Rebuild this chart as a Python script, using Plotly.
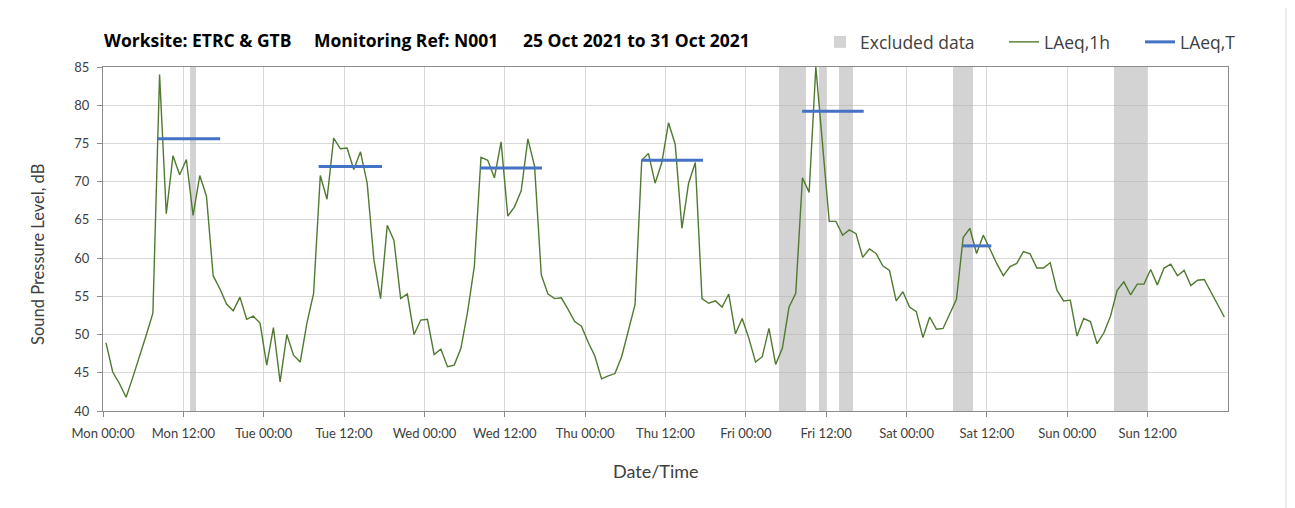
import pandas as pd
import plotly.graph_objects as go

# ---------------- data ----------------
start_time = "2021-10-25 00:27"
laeq_1h = [
    48.9, 45.1, 43.6, 41.8, 44.4, 47.0, 49.9, 52.8, 84.0, 65.8,
    73.4, 70.9, 72.9, 65.6, 70.8, 68.1, 57.7, 56.0, 54.0, 53.1,
    54.9, 52.0, 52.4, 51.5, 46.0, 50.9, 43.8, 50.0, 47.3, 46.4,
    51.5, 55.4, 70.8, 67.7, 75.7, 74.3, 74.4, 71.6, 73.9, 69.8,
    59.8, 54.7, 64.3, 62.3, 54.7, 55.3, 50.0, 51.9, 52.0, 47.4,
    48.1, 45.8, 46.0, 48.2, 53.0, 58.9, 73.2, 72.8, 70.5, 75.2,
    65.5, 66.7, 68.8, 75.6, 72.0, 57.8, 55.3, 54.7, 54.8, 53.3,
    51.7, 51.1, 49.0, 47.2, 44.2, 44.6, 44.9, 47.1, 50.4, 53.9,
    72.8, 73.7, 69.8, 72.5, 77.7, 74.9, 63.9, 69.8, 72.5, 54.7,
    54.1, 54.4, 53.6, 55.3, 50.1, 52.1, 49.5, 46.4, 47.1, 50.8,
    46.1, 48.2, 53.6, 55.4, 70.5, 68.6, 85.0, 75.0, 64.8, 64.8,
    63.0, 63.7, 63.2, 60.1, 61.2, 60.6, 59.0, 58.4, 54.4, 55.6,
    53.6, 53.0, 49.6, 52.3, 50.7, 50.8, 52.6, 54.6, 62.7, 63.9,
    60.6, 63.0, 61.2, 59.3, 57.7, 58.9, 59.3, 60.85, 60.55, 58.7,
    58.7, 59.4, 55.8, 54.4, 54.5, 49.8, 52.1, 51.7, 48.8, 50.2,
    52.4, 55.8, 56.9, 55.2, 56.6, 56.6, 58.5, 56.5, 58.7, 59.2,
    57.7, 58.4, 56.4, 57.1, 57.2, 55.5, 53.9, 52.3,
]
excluded_hours = [13, 101, 102, 103, 104, 107, 110, 111, 127, 128, 129,
                  151, 152, 153, 154, 155]
laeq_t_start = ["2021-10-25 08:10", "2021-10-26 08:12", "2021-10-27 08:18",
                "2021-10-28 08:24", "2021-10-29 08:24", "2021-10-30 08:24"]
laeq_t_end = ["2021-10-25 17:30", "2021-10-26 17:40", "2021-10-27 17:33",
              "2021-10-28 17:36", "2021-10-29 17:36", "2021-10-30 12:39"]
laeq_t = [75.6, 72.0, 71.8, 72.8, 79.2, 61.6]
tick_vals = pd.date_range("2021-10-25 00:00", periods=14, freq="12h")
tick_text = ["Mon 00:00", "Mon 12:00", "Tue 00:00", "Tue 12:00", "Wed 00:00",
             "Wed 12:00", "Thu 00:00", "Thu 12:00", "Fri 00:00", "Fri 12:00",
             "Sat 00:00", "Sat 12:00", "Sun 00:00", "Sun 12:00"]
y_ticks = [40, 45, 50, 55, 60, 65, 70, 75, 80, 85]
title_parts = ["Worksite: ETRC &amp; GTB", "Monitoring Ref: N001",
               "25 Oct 2021 to 31 Oct 2021"]

times = pd.date_range(start_time, periods=len(laeq_1h), freq="h")

FONT = "Lato"
TFONT = "Open Sans"
TXT = "#404040"

# page geometry (the html body has an 8px margin)
OFF = 8
W, H = 1295 - OFF, 508 - OFF
PL, PR, PT, PB = 103, 1228, 67, 411          # plot area on the page
L, R, T, B = PL - OFF, W - (PR - OFF), PT - OFF, H - (PB - OFF)
pw, ph = PR - PL, PB - PT


def px(x):
    return (x - PL) / pw


def py(y):
    return (PB - y) / ph


fig = go.Figure()

# excluded data bands
fig.add_trace(go.Bar(
    x=[times[i] for i in excluded_hours],
    y=[85] * len(excluded_hours),
    width=3600000,
    marker=dict(color="rgba(175,175,175,0.55)", line=dict(width=0)),
    name="Excluded data", hoverinfo="skip", legendwidth=139,
))

# hourly LAeq
fig.add_trace(go.Scatter(
    x=times, y=laeq_1h, mode="lines",
    line=dict(color="#4F7A30", width=1.4),
    name="LAeq,1h", legendwidth=91,
))

# LAeq,T segments
xs, ys = [], []
for s, e, v in zip(laeq_t_start, laeq_t_end, laeq_t):
    xs += [pd.Timestamp(s), pd.Timestamp(e), None]
    ys += [v, v, None]
fig.add_trace(go.Scatter(
    x=xs, y=ys, mode="lines",
    line=dict(color="#4472C4", width=3),
    name="LAeq,T", connectgaps=False,
))

fig.update_layout(
    width=W, height=H,
    margin=dict(l=L, r=R, t=T, b=B, autoexpand=False),
    paper_bgcolor="white", plot_bgcolor="white",
    font=dict(family=FONT, color=TXT),
    bargap=0,
    showlegend=True,
    legend=dict(
        orientation="h", x=px(820), y=py(42), xanchor="left", yanchor="middle",
        font=dict(family=TFONT, size=17.5, color=TXT),
        bgcolor="rgba(0,0,0,0)", itemwidth=30,
    ),
    xaxis=dict(
        type="date",
        range=[pd.Timestamp("2021-10-25 00:00"), pd.Timestamp("2021-11-01 00:00")],
        tickvals=list(tick_vals), ticktext=tick_text,
        tickfont=dict(family=FONT, size=13, color=TXT),
        ticklabelstandoff=5,
        showgrid=True, gridcolor="#D9D9D9", gridwidth=1,
        showline=True, linecolor="#8C8C8C", linewidth=1, mirror=True,
        ticks="outside", ticklen=5, tickcolor="#8C8C8C",
        zeroline=False,
    ),
    yaxis=dict(
        range=[40, 85], tickvals=y_ticks,
        tickfont=dict(family=FONT, size=13, color=TXT),
        ticklabelstandoff=5,
        showgrid=True, gridcolor="#D9D9D9", gridwidth=1,
        showline=True, linecolor="#8C8C8C", linewidth=1, mirror=True,
        ticks="outside", ticklen=5, tickcolor="#8C8C8C",
        zeroline=False,
    ),
)

# title pieces
for text, x0 in zip(title_parts, [102, 312, 521]):
    fig.add_annotation(
        text="<b>" + text + "</b>", x=px(x0), y=py(40), xref="paper", yref="paper",
        xanchor="left", yanchor="middle", showarrow=False,
        font=dict(family=TFONT, size=17.5, color="#000000"),
    )

# y axis title
fig.add_annotation(
    text="Sound Pressure Level, dB", x=px(38), y=py(255), xref="paper", yref="paper",
    xanchor="center", yanchor="middle", showarrow=False, textangle=-90,
    font=dict(family=FONT, size=16.5, color=TXT),
)

# x axis title
fig.add_annotation(
    text="Date/Time", x=px(656), y=py(471), xref="paper", yref="paper",
    xanchor="center", yanchor="middle", showarrow=False,
    font=dict(family=FONT, size=18, color=TXT),
)

# chart area border
fig.add_shape(type="rect", xref="paper", yref="paper",
              x0=px(6), x1=px(1286), y0=py(520), y1=py(-10),
              line=dict(color="#D9D9D9", width=1), fillcolor="rgba(0,0,0,0)",
              layer="below")

fig.write_html("out.html")
